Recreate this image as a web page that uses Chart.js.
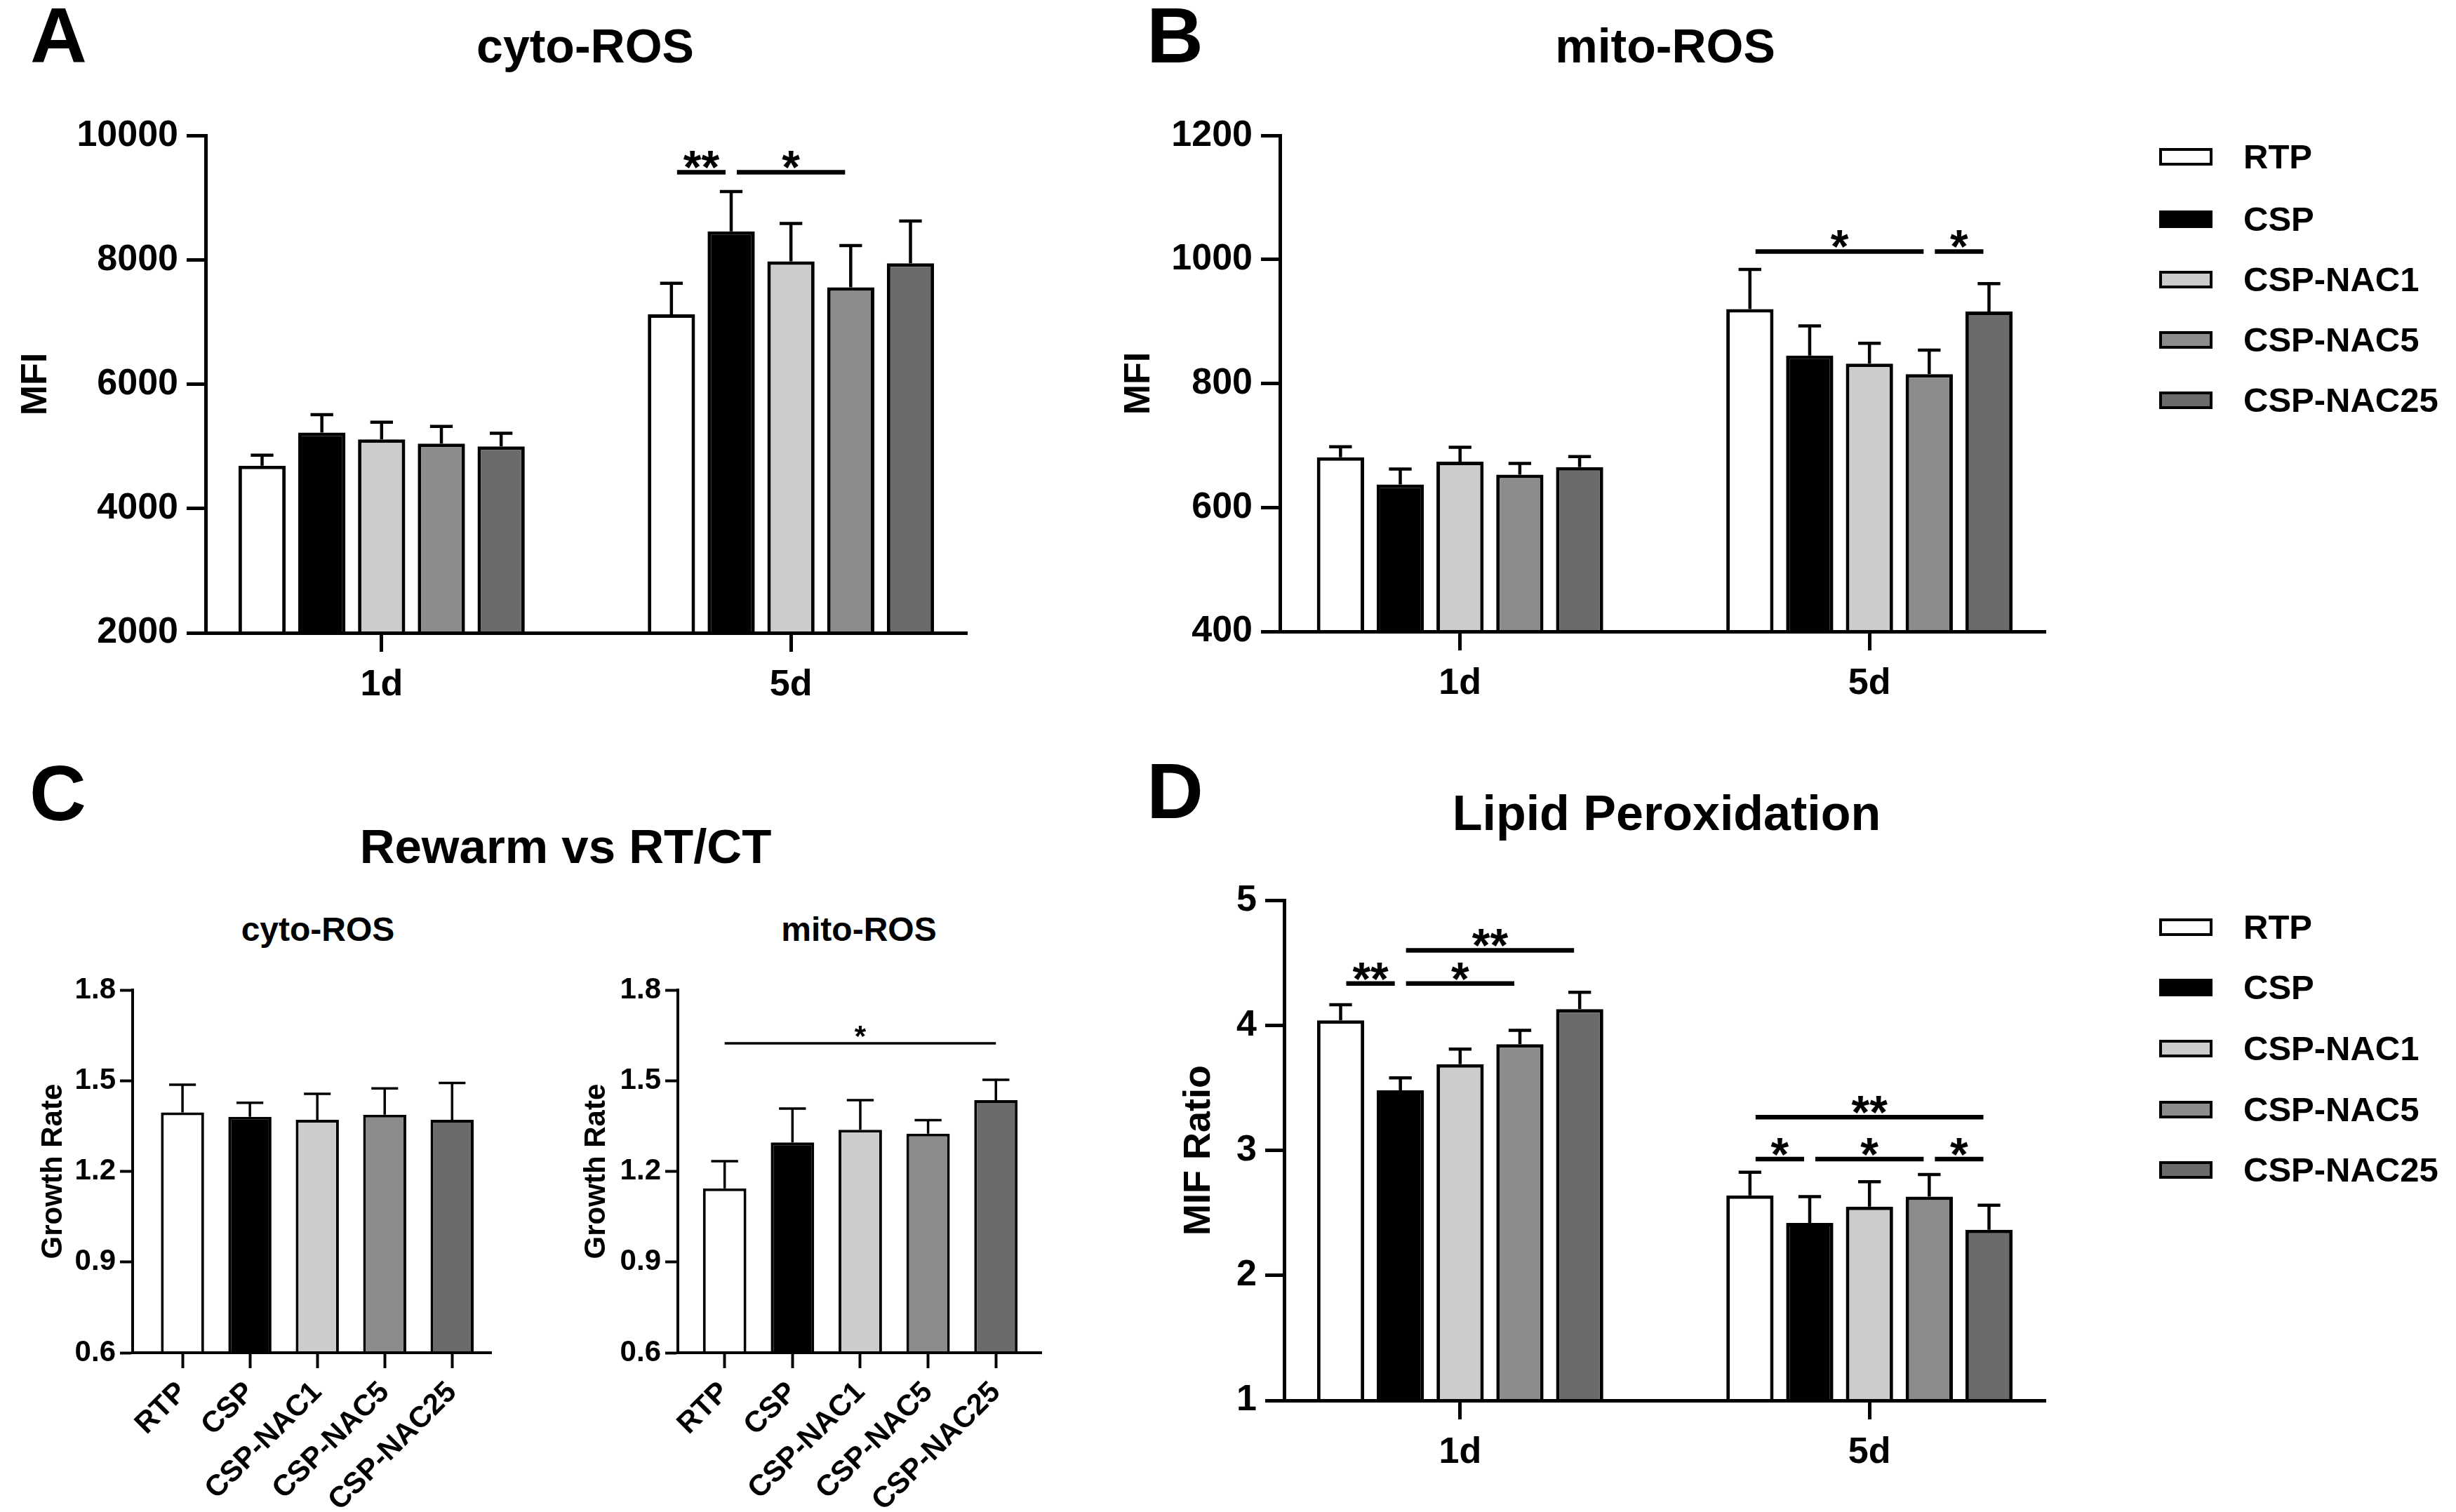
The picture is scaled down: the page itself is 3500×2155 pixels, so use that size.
<!DOCTYPE html>
<html lang="en">
<head>
    <meta charset="UTF-8">
    <title>ROS and Lipid Peroxidation</title>
    <script src="https://cdn.jsdelivr.net/npm/chart.js"></script>
    <style>
        body { margin: 0; background: #fff; }
        #page {
            position: relative; width: 3500px; height: 2155px; overflow: hidden;
            font-family: "Liberation Sans", Arial, Helvetica, sans-serif; font-weight: bold; color: #000;
        }
        canvas, .txt, .box { position: absolute; }
        .txt { line-height: 1; white-space: nowrap; }
        .center { transform: translateX(-50%); }
        .box { width: 76px; height: 25px; border: 4px solid #000; box-sizing: border-box; }
    </style>
</head>
<body>
<div id="page">
    <!-- panel letters -->
    <div class="txt" style="left:43px;top:-5px;font-size:112px">A</div>
    <div class="txt" style="left:1634px;top:-5px;font-size:112px">B</div>
    <div class="txt" style="left:42px;top:1075px;font-size:112px">C</div>
    <div class="txt" style="left:1634px;top:1072px;font-size:112px">D</div>

    <!-- titles -->
    <div class="txt center" style="left:834px;top:31px;font-size:68px">cyto-ROS</div>
    <div class="txt center" style="left:2373px;top:31px;font-size:68px">mito-ROS</div>
    <div class="txt center" style="left:806px;top:1172px;font-size:69px">Rewarm vs RT/CT</div>
    <div class="txt center" style="left:453px;top:1301px;font-size:48px">cyto-ROS</div>
    <div class="txt center" style="left:1224px;top:1301px;font-size:48px">mito-ROS</div>
    <div class="txt center" style="left:2375px;top:1124px;font-size:70px">Lipid Peroxidation</div>

    <canvas id="chartA" width="1420" height="850" style="left:0;top:150px"></canvas>
    <canvas id="chartB" width="1380" height="850" style="left:1580px;top:150px"></canvas>
    <canvas id="chartC1" width="730" height="775" style="left:0;top:1380px"></canvas>
    <canvas id="chartC2" width="720" height="775" style="left:800px;top:1380px"></canvas>
    <canvas id="chartD" width="1380" height="915" style="left:1580px;top:1240px"></canvas>
</div>

<script>
    // groups and days
    const groups = ['RTP', 'CSP', 'CSP-NAC1', 'CSP-NAC5', 'CSP-NAC25'];
    const days = ['1d', '5d'];
    const fills = ['#ffffff', '#000000', '#cccccc', '#8c8c8c', '#6b6b6b'];

    // A: cyto-ROS (MFI), mean and SD per group
    const cyto1d = [4690, 5222, 5111, 5044, 5000];
    const cyto1dErr = [167, 289, 278, 278, 211];
    const cyto5d = [7125, 8460, 7975, 7560, 7945];
    const cyto5dErr = [500, 640, 610, 670, 680];
    const cytoTicks = [2000, 4000, 6000, 8000, 10000];
    // [day, from group, to group, y, label]
    const cytoSig = [[1, 0, 1, 9410, '**'], [1, 1, 3, 9410, '*']];

    // B: mito-ROS (MFI)
    const mito1d = [681, 637, 674, 653, 665];
    const mito1dErr = [17, 25, 23, 18, 17];
    const mito5d = [920, 845, 832, 815, 916];
    const mito5dErr = [64, 48, 33, 39, 45];
    const mitoTicks = [400, 600, 800, 1000, 1200];
    const mitoSig = [[1, 0, 3, 1013, '*'], [1, 3, 4, 1013, '*']];

    // C: rewarm vs RT/CT growth rate
    const rewarmCyto = [1.395, 1.381, 1.371, 1.388, 1.371];
    const rewarmCytoErr = [0.092, 0.046, 0.086, 0.087, 0.122];
    const rewarmMito = [1.144, 1.296, 1.338, 1.325, 1.436];
    const rewarmMitoErr = [0.090, 0.112, 0.098, 0.045, 0.067];
    const rateTicks = [0.6, 0.9, 1.2, 1.5, 1.8];
    // [from group, to group, y, label]
    const rewarmMitoSig = [[0, 4, 1.624, '*']];

    // D: lipid peroxidation (MIF ratio)
    const lipid1d = [4.04, 3.48, 3.69, 3.85, 4.13];
    const lipid1dErr = [0.125, 0.10, 0.12, 0.11, 0.134];
    const lipid5d = [2.64, 2.42, 2.55, 2.63, 2.365];
    const lipid5dErr = [0.185, 0.21, 0.20, 0.177, 0.196];
    const lipidTicks = [1, 2, 3, 4, 5];
    const lipidSig = [
        [0, 0, 1, 4.335, '**'], [0, 1, 3, 4.335, '*'], [0, 1, 4, 4.60, '**'],
        [1, 0, 4, 3.266, '**'], [1, 0, 1, 2.93, '*'], [1, 1, 3, 2.93, '*'], [1, 3, 4, 2.93, '*']
    ];

    const FONT = '"Liberation Sans", Arial, Helvetica, sans-serif';
    Chart.defaults.font.family = FONT;
    Chart.defaults.font.weight = 'bold';
    Chart.defaults.color = '#000';

    // legends (HTML, next to B and D)
    function legend(rows) {
        const page = document.getElementById('page');
        groups.forEach((g, i) => {
            const box = document.createElement('div');
            box.className = 'box';
            box.style.left = '3077px';
            box.style.top = (rows[i] - 12.5) + 'px';
            box.style.background = fills[i];
            page.appendChild(box);
            const t = document.createElement('div');
            t.className = 'txt';
            t.style.left = '3197px';
            t.style.top = (rows[i] - 24) + 'px';
            t.style.fontSize = '49px';
            t.textContent = g;
            page.appendChild(t);
        });
    }
    legend([223, 312, 398, 484, 570]);
    legend([1321, 1407, 1494, 1581, 1667]);

    // upward SD bars with a cap
    const errorBars = {
        id: 'errorBars',
        afterDatasetsDraw(chart, args, opts) {
            const ctx = chart.ctx;
            const y = chart.scales.y;
            ctx.save();
            ctx.strokeStyle = '#000';
            ctx.lineWidth = opts.width;
            chart.data.datasets.forEach((ds, i) => {
                chart.getDatasetMeta(i).data.forEach((bar, j) => {
                    const top = y.getPixelForValue(ds.data[j].y + opts.errors[i][j]);
                    const half = bar.width * opts.cap / 2;
                    ctx.beginPath();
                    ctx.moveTo(bar.x, bar.y);
                    ctx.lineTo(bar.x, top);
                    ctx.moveTo(bar.x - half, top);
                    ctx.lineTo(bar.x + half, top);
                    ctx.stroke();
                });
            });
            ctx.restore();
        }
    };

    // significance lines with stars
    const sigBars = {
        id: 'sigBars',
        afterDatasetsDraw(chart, args, opts) {
            const ctx = chart.ctx;
            const y = chart.scales.y;
            ctx.save();
            ctx.strokeStyle = '#000';
            ctx.fillStyle = '#000';
            ctx.lineWidth = opts.width;
            ctx.font = 'bold ' + opts.size + 'px ' + FONT;
            ctx.textAlign = 'center';
            ctx.textBaseline = 'alphabetic';
            opts.items.forEach(it => {
                const xa = chart.getDatasetMeta(it.a[0]).data[it.a[1]].x + opts.gap;
                const xb = chart.getDatasetMeta(it.b[0]).data[it.b[1]].x - opts.gap;
                const py = y.getPixelForValue(it.y);
                ctx.beginPath();
                ctx.moveTo(xa, py);
                ctx.lineTo(xb, py);
                ctx.stroke();
                ctx.fillText(it.text, (xa + xb) / 2, py + opts.lift);
            });
            ctx.restore();
        }
    };

    function yAxis(ticks, title, L, fmt) {
        return {
            min: ticks[0],
            max: ticks[ticks.length - 1],
            afterBuildTicks: s => { s.ticks = ticks.map(v => ({ value: v })); },
            afterFit: s => { s.width = L.yWidth; },
            grid: { drawOnChartArea: false, drawTicks: true, tickLength: L.tick, tickWidth: L.line, tickColor: '#000' },
            border: { color: '#000', width: L.line, z: 1 },
            ticks: { padding: L.tickPad, font: { size: L.tickSize }, callback: fmt || (v => v) },
            title: { display: true, text: title, font: { size: L.titleSize }, padding: { top: L.titlePad, bottom: 0 } }
        };
    }

    function xAxis(labels, L) {
        return {
            type: 'linear',
            min: L.xMin,
            max: L.xMax,
            offset: false,
            afterBuildTicks: s => { s.ticks = labels.map((_, i) => ({ value: i })); },
            afterFit: s => { s.height = L.xHeight; },
            grid: {
                offset: false, drawOnChartArea: false, drawTicks: true,
                tickLength: L.xTick, tickWidth: L.line, tickColor: '#000'
            },
            border: { color: '#000', width: L.line, z: 1 },
            ticks: {
                padding: L.xPad, font: { size: L.xSize }, autoSkip: false,
                maxRotation: L.rot, minRotation: L.rot, callback: v => labels[v]
            }
        };
    }

    function baseOptions(L) {
        return {
            responsive: false,
            animation: false,
            devicePixelRatio: 1,
            layout: { padding: { top: L.padTop, right: L.padRight, left: 0, bottom: 0 } },
            events: []
        };
    }

    // two day groups, five bars each
    function groupedChart(id, day1, err1, day5, err5, ticks, title, sig, L) {
        const opts = baseOptions(L);
        opts.scales = { x: xAxis(days, L), y: yAxis(ticks, title, L) };
        opts.plugins = {
            legend: { display: false },
            tooltip: { enabled: false },
            errorBars: { errors: groups.map((g, i) => [err1[i], err5[i]]), cap: 0.48, width: 4.5 },
            sigBars: {
                items: sig.map(([d, f, t, v, l]) => ({ a: [f, d], b: [t, d], y: v, text: l })),
                width: 6.5, size: 66, gap: 8, lift: 16
            }
        };
        new Chart(document.getElementById(id), {
            type: 'bar',
            data: {
                datasets: groups.map((g, i) => ({
                    label: g,
                    data: [{ x: 0, y: day1[i] }, { x: 1, y: day5[i] }],
                    backgroundColor: fills[i],
                    borderColor: '#000',
                    borderWidth: 5,
                    borderSkipped: false,
                    categoryPercentage: 0.73,
                    barPercentage: 0.79
                }))
            },
            options: opts,
            plugins: [errorBars, sigBars]
        });
    }

    // one bar per group
    function rateChart(id, values, errs, sig, L) {
        const opts = baseOptions(L);
        opts.scales = { x: xAxis(groups, L), y: yAxis(rateTicks, 'Growth Rate', L, v => v.toFixed(1)) };
        opts.plugins = {
            legend: { display: false },
            tooltip: { enabled: false },
            errorBars: { errors: [errs], cap: 0.62, width: 3.5 },
            sigBars: {
                items: sig.map(([f, t, v, l]) => ({ a: [0, f], b: [0, t], y: v, text: l })),
                width: 3.5, size: 42, gap: 0, lift: 4
            }
        };
        new Chart(document.getElementById(id), {
            type: 'bar',
            data: {
                datasets: [{
                    label: 'Growth Rate',
                    data: values.map((v, i) => ({ x: i, y: v })),
                    backgroundColor: fills,
                    borderColor: '#000',
                    borderWidth: 4,
                    borderSkipped: false,
                    categoryPercentage: 1,
                    barPercentage: 0.64
                }]
            },
            options: opts,
            plugins: [errorBars, sigBars]
        });
    }

    const bigAxis = {
        tick: 27, xTick: 27, line: 5, tickPad: 12, tickSize: 52, xPad: 16, xSize: 52, rot: 0,
        titleSize: 52, xMin: -0.43, xMax: 1.43
    };

    groupedChart('chartA', cyto1d, cyto1dErr, cyto5d, cyto5dErr, cytoTicks, 'MFI', cytoSig,
        Object.assign({}, bigAxis, { yWidth: 293, xHeight: 98, padTop: 32, padRight: 42, titlePad: 20 }));

    groupedChart('chartB', mito1d, mito1dErr, mito5d, mito5dErr, mitoTicks, 'MFI', mitoSig,
        Object.assign({}, bigAxis, { yWidth: 244, xHeight: 100, padTop: 30, padRight: 45, titlePad: 12, xMin: -0.44 }));

    groupedChart('chartD', lipid1d, lipid1dErr, lipid5d, lipid5dErr, lipidTicks, 'MIF Ratio', lipidSig,
        Object.assign({}, bigAxis, { yWidth: 250, xHeight: 159, padTop: 34, padRight: 45, titlePad: 97, titleSize: 54 }));

    const smallAxis = {
        tick: 18, xTick: 22, line: 4, tickPad: 6, tickSize: 42, xPad: 10, xSize: 42, rot: 45,
        titleSize: 42, xHeight: 227, padTop: 31
    };

    rateChart('chartC1', rewarmCyto, rewarmCytoErr, [],
        Object.assign({}, smallAxis, { yWidth: 189, padRight: 30, titlePad: 51, xMin: -0.74, xMax: 4.58 }));

    rateChart('chartC2', rewarmMito, rewarmMitoErr, rewarmMitoSig,
        Object.assign({}, smallAxis, { yWidth: 166, padRight: 36, titlePad: 25, xMin: -0.69, xMax: 4.67 }));
</script>
</body>
</html>
